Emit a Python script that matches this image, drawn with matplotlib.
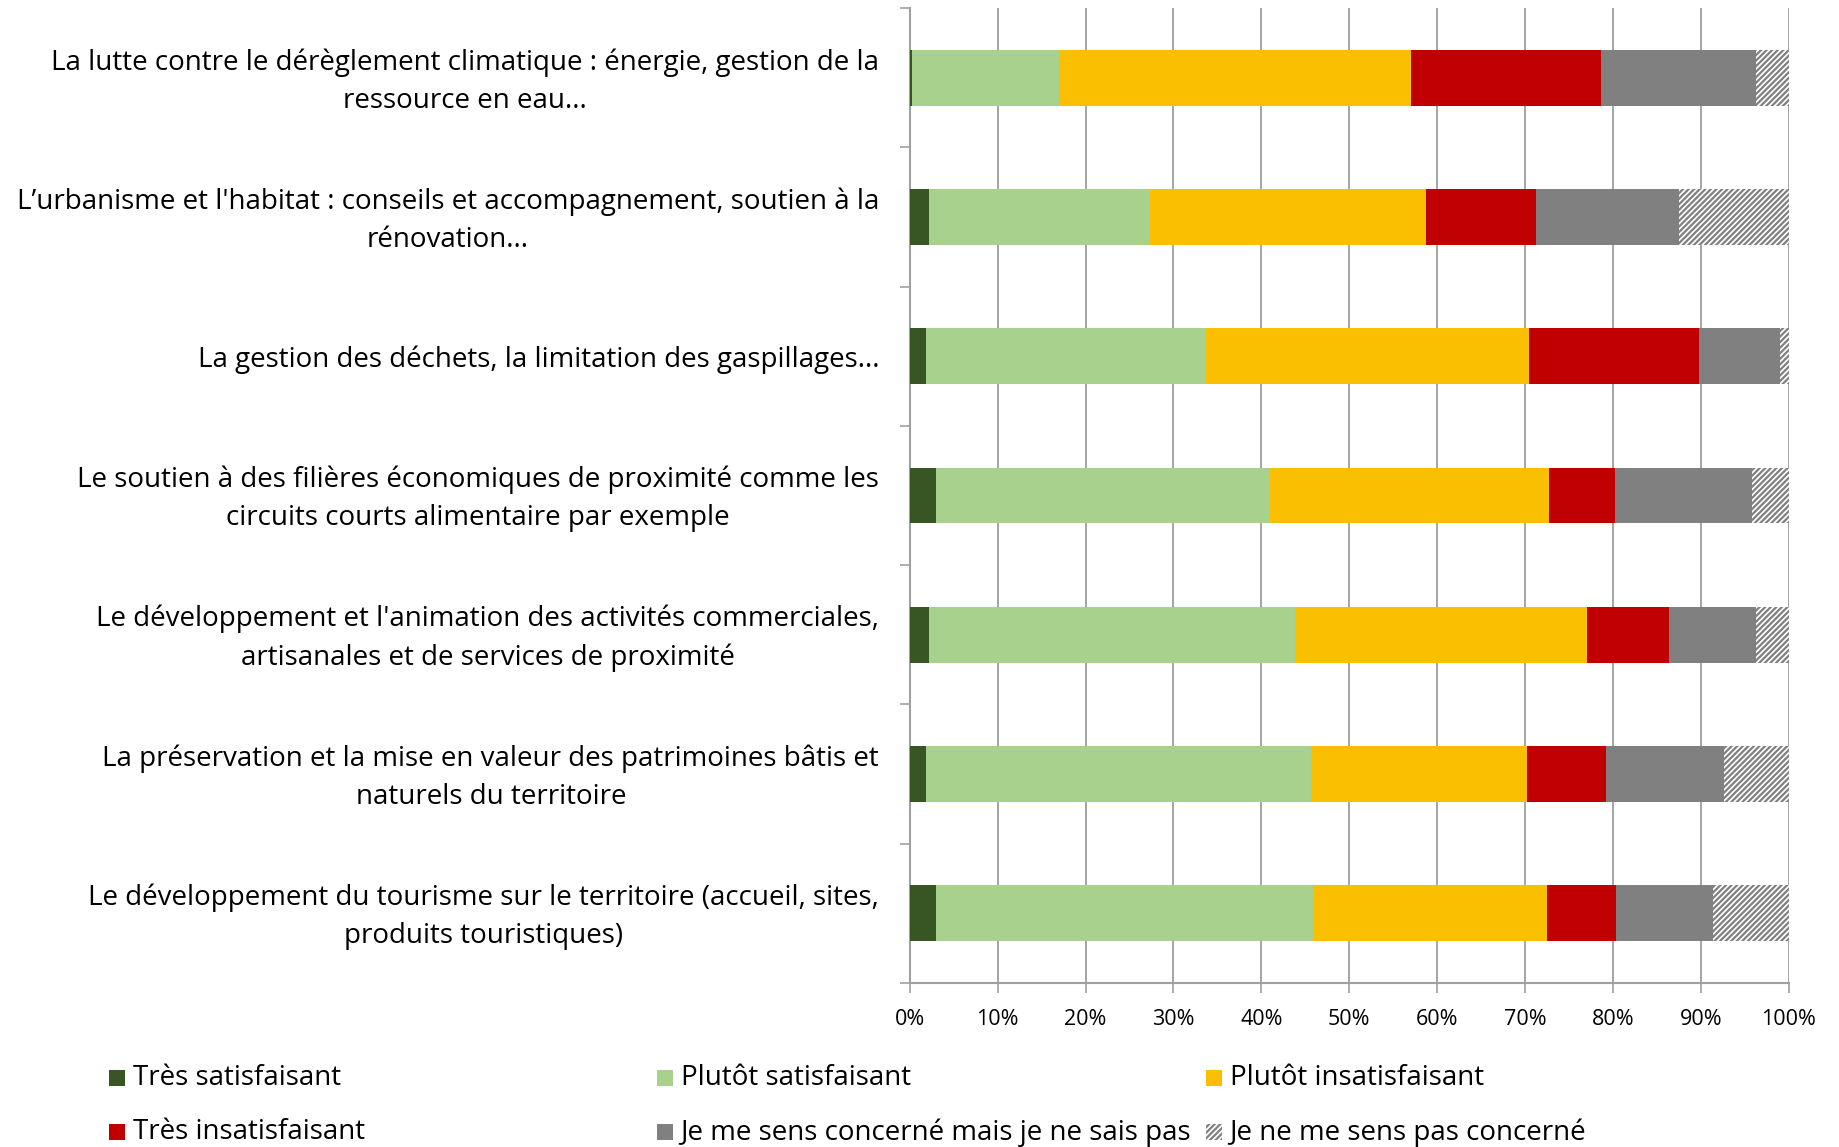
import numpy as np
import matplotlib.pyplot as plt
from matplotlib.patches import Rectangle

plt.rcParams['font.family'] = ['Open Sans', 'DejaVu Sans']

categories = [
    "La lutte contre le dérèglement climatique : énergie, gestion de la\nressource en eau...",
    "L’urbanisme et l'habitat : conseils et accompagnement, soutien à la\nrénovation...",
    "La gestion des déchets, la limitation des gaspillages...",
    "Le soutien à des filières économiques de proximité comme les\ncircuits courts alimentaire par exemple",
    "Le développement et l'animation des activités commerciales,\nartisanales et de services de proximité",
    "La préservation et la mise en valeur des patrimoines bâtis et\nnaturels du territoire",
    "Le développement du tourisme sur le territoire (accueil, sites,\nproduits touristiques)",
]
series_names = ["Très satisfaisant", "Plutôt satisfaisant", "Plutôt insatisfaisant",
                "Très insatisfaisant", "Je me sens concerné mais je ne sais pas",
                "Je ne me sens pas concerné"]
tres_satisf = [0.3, 2.2, 1.8, 3.0, 2.2, 1.8, 3.0]
plutot_satisf = [16.7, 25.1, 31.9, 38.0, 41.6, 43.9, 43.0]
plutot_insatisf = [40.0, 31.4, 36.8, 31.7, 33.3, 24.5, 26.5]
tres_insatisf = [21.6, 12.6, 19.3, 7.6, 9.3, 9.0, 7.9]
ne_sais_pas = [17.7, 16.2, 9.2, 15.5, 9.9, 13.4, 11.0]
pas_concerne = [3.7, 12.5, 1.0, 4.2, 3.7, 7.4, 8.6]

colors = ["#375623", "#a9d18e", "#f9bf00", "#c00000", "#808080", "white"]
data = [tres_satisf, plutot_satisf, plutot_insatisf, tres_insatisf, ne_sais_pas, pas_concerne]

plt.rcParams['hatch.linewidth'] = 1.6
fig = plt.figure(figsize=(18.39, 11.47), dpi=100)
ax = fig.add_axes([0.4947, 0.143, 0.4779, 0.8499])

y = np.arange(len(categories))
left = np.zeros(len(categories))
for i, vals in enumerate(data):
    vals = np.array(vals) / 100
    if i == 5:
        ax.barh(y, vals, left=left, height=0.4, color="white", edgecolor="#808080",
                hatch="//////", linewidth=0, zorder=3)
    else:
        ax.barh(y, vals, left=left, height=0.4, color=colors[i], linewidth=0, zorder=3)
    left += vals

ax.set_xlim(0, 1)
ax.set_ylim(len(categories) - 0.5, -0.5)
ax.set_xticks(np.arange(0, 1.01, 0.1))
ax.set_xticklabels([f"{int(round(v * 100))}%" for v in np.arange(0, 1.01, 0.1)], fontsize=15.5)
# two-line labels sit a touch higher in the original
label_pos = [yy - 0.035 if "\n" in c else yy for yy, c in zip(y, categories)]
ax.set_yticks(label_pos)
ax.set_yticklabels(categories, fontsize=20, linespacing=1.47)
for lab in ax.get_yticklabels():
    lab.set_multialignment('center')
ax.set_yticks(np.arange(-0.5, len(categories), 1), minor=True)
ax.tick_params(axis='y', which='major', length=0, pad=22)
ax.tick_params(axis='y', which='minor', length=7, color="#a0a0a0", width=1.2)
ax.tick_params(axis='x', length=7, color="#a0a0a0", width=1.2, pad=12)

ax.grid(axis='x', color="#8c8c8c", linewidth=1.1, zorder=0)
ax.set_axisbelow(True)
for s in ['top', 'right']:
    ax.spines[s].set_visible(False)
for s in ['left', 'bottom']:
    ax.spines[s].set_color("#a0a0a0")
    ax.spines[s].set_linewidth(1.5)

# legend laid out like the original (evenly spaced columns)
leg_x = [0.0593, 0.357, 0.6557]
leg_y = [0.0598, 0.0127]
pos = [(0, 0), (1, 0), (2, 0), (0, 1), (1, 1), (None, 1)]
for i, name in enumerate(series_names):
    c, r = pos[i]
    x0 = 1028 * 1.1728 / 1839 if c is None else leg_x[c]
    y0 = leg_y[r]
    w, h = 16 / 1839, 16 / 1147
    if i == 5:
        p = Rectangle((x0, y0 - h / 2), w, h, transform=fig.transFigure, facecolor="white",
                      edgecolor="#808080", hatch="//////", linewidth=0)
    else:
        p = Rectangle((x0, y0 - h / 2), w, h, transform=fig.transFigure, facecolor=colors[i],
                      linewidth=0)
    fig.patches.append(p)
    fig.text(x0 + 24 / 1839, y0, name, fontsize=20, va='center', ha='left')

fig.savefig("out.png", dpi=100)
